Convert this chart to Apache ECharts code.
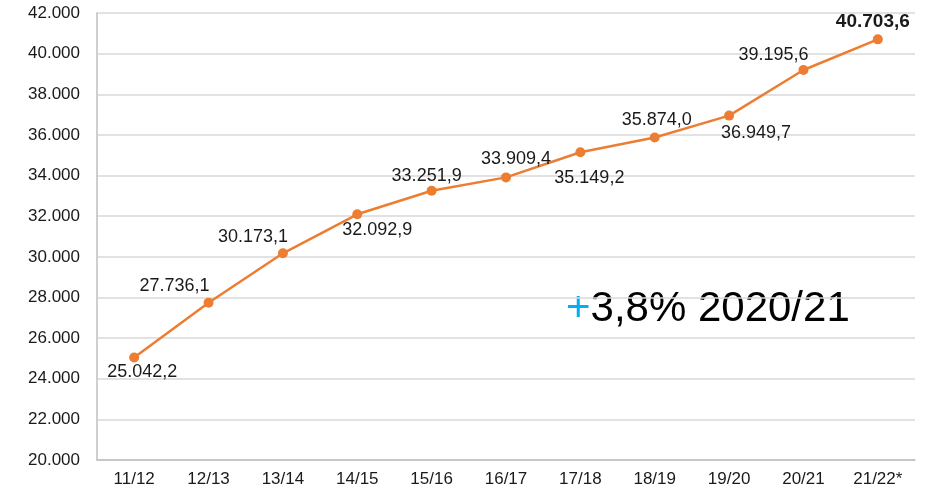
<!DOCTYPE html>
<html>
<head>
<meta charset="utf-8">
<script src="https://cdn.jsdelivr.net/npm/echarts@6/dist/echarts.min.js"></script>
<style>
  html, body { margin: 0; padding: 0; background: #fff; }
  #chart { width: 925px; height: 493px; }
</style>
</head>
<body>
<div id="chart"></div>
<script>
var categories = ["11/12", "12/13", "13/14", "14/15", "15/16", "16/17", "17/18", "18/19", "19/20", "20/21", "21/22*"];
var values = [25042.2, 27736.1, 30173.1, 32092.9, 33251.9, 33909.4, 35149.2, 35874.0, 36949.7, 39195.6, 40703.6];
var yTicks = { min: 20000, max: 42000, interval: 2000 };
var noteSign = "+";
var noteText = "3,8% 2020/21";

// label offsets from each point (text centre)
var labelOffsets = [[8, 14], [-34, -17], [-30, -16], [20, 16], [-5, -15], [10, -18], [9, 26], [2, -17], [27, 17], [-30, -15], [-5, -18]];

function fmtThousands(n) {
  return String(n).replace(/\B(?=(\d{3})+(?!\d))/g, ".");
}
function fmtValue(v) {
  var parts = v.toFixed(1).split(".");
  return fmtThousands(parts[0]) + "," + parts[1];
}

var seriesData = values.map(function (v, i) {
  var last = i === values.length - 1;
  return {
    value: v,
    label: {
      offset: labelOffsets[i],
      fontWeight: last ? "bold" : "normal",
      fontSize: last ? 19 : 18
    }
  };
});

var chart = echarts.init(document.getElementById("chart"));
chart.setOption({
  animation: false,
  textStyle: { fontFamily: "Liberation Sans, Arial, sans-serif" },
  grid: { left: 97, right: 10, top: 13, bottom: 33, containLabel: false },
  xAxis: {
    type: "category",
    data: categories,
    axisLine: { lineStyle: { color: "#bfbfbf", width: 1.5 } },
    axisTick: { show: false },
    axisLabel: { color: "#1a1a1a", fontSize: 17, margin: 11, interval: 0 },
    splitLine: { show: false }
  },
  yAxis: {
    type: "value",
    min: yTicks.min,
    max: yTicks.max,
    interval: yTicks.interval,
    axisLine: { show: true, lineStyle: { color: "#bfbfbf", width: 1.5 } },
    axisTick: { show: false },
    axisLabel: {
      color: "#1a1a1a",
      fontSize: 17,
      margin: 17,
      formatter: function (v) { return fmtThousands(v); }
    },
    splitLine: { lineStyle: { color: "#d9d9d9", width: 1.5 } }
  },
  series: [
    {
      type: "line",
      data: seriesData,
      symbol: "circle",
      symbolSize: 10,
      lineStyle: { color: "#ED7D31", width: 2.5 },
      itemStyle: { color: "#ED7D31" },
      label: {
        show: true,
        position: "inside",
        color: "#1a1a1a",
        fontFamily: "Liberation Sans, Arial, sans-serif",
        formatter: function (p) { return fmtValue(p.value); }
      }
    }
  ],
  graphic: [
    {
      type: "text",
      left: 566,
      top: 288,
      style: {
        text: "{s|" + noteSign + "}{t|" + noteText + "}",
        rich: {
          s: { fill: "#00B0F0", fontSize: 42, fontFamily: "Liberation Sans, Arial, sans-serif" },
          t: { fill: "#000", fontSize: 42, fontFamily: "Liberation Sans, Arial, sans-serif" }
        }
      }
    }
  ]
});
</script>
</body>
</html>
